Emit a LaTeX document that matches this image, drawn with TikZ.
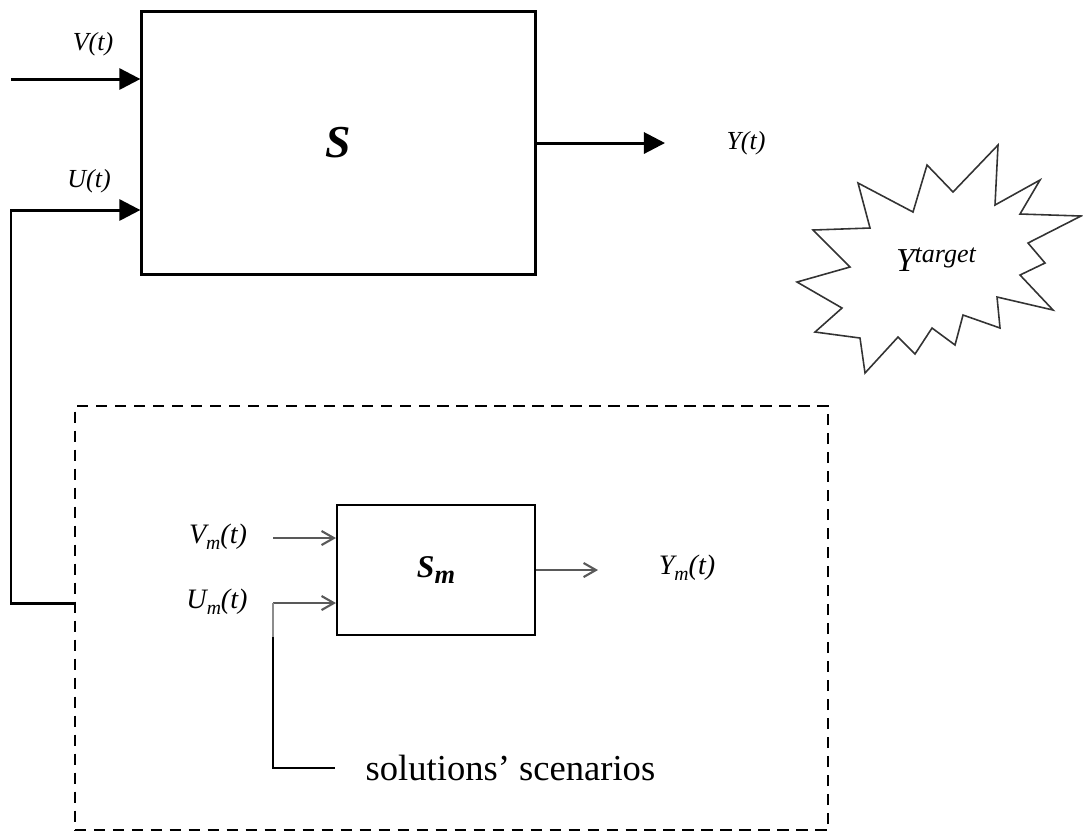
\documentclass[tikz,border=0pt]{standalone}
\usepackage{fontspec}
\setmainfont{Liberation Serif}
\usetikzlibrary{positioning, arrows.meta}
\newcommand{\msub}[2][5.6]{\raisebox{-1.6pt}{\fontsize{#1}{6}\selectfont #2}}

\begin{document}
\begin{tikzpicture}[x=0.01cm, y=-0.01cm,
    > = {Triangle[length=6pt, width=6pt]},
    sig/.style={line width=0.85pt, ->},
    msig/.style={draw=black!65, line width=0.6pt, -{Straight Barb[length=3.5pt, width=4pt]}},
    lbl/.style={font=\fontsize{7.4}{9}\selectfont\itshape, inner sep=0pt},
    mlbl/.style={font=\fontsize{8}{9}\selectfont\itshape, inner sep=0pt}
]
    \useasboundingbox (0,0) rectangle (1083,832);

    \node [draw, line width=0.85pt,
        minimum width=3.93cm,
        minimum height=2.62cm,
        font=\fontsize{13}{14}\selectfont\bfseries\itshape
    ] (S) at (338.5,143) {S};

    \node [draw, dashed, line width=0.7pt,
        dash pattern=on 3.2pt off 2.2pt,
        minimum width=7.53cm,
        minimum height=4.24cm
    ] (model) at (451.5,618) {};

    \node [draw, line width=0.55pt,
        minimum width=1.98cm,
        minimum height=1.30cm,
        font=\fontsize{9}{10}\selectfont\bfseries\itshape
    ] (Sm) at (436,570) {S\msub[7.5]{m}};

    % legendas
    \node [lbl] (V) at (93,44) {V(t)};
    \node [lbl] (U) at (89,181) {U(t)};
    \node [lbl] (Y) at (746,143) {Y(t)};
    \node [mlbl] (Vm) at (218,537) {V\msub{m}(t)};
    \node [mlbl] (Um) at (217,602) {U\msub{m}(t)};
    \node [mlbl] (Ym) at (687,568) {Y\msub{m}(t)};
    \node [font=\fontsize{10.4}{12}\selectfont, anchor=west, inner sep=0pt]
        (scen) at (365,768) {solutions’ scenarios};

    % target
    \draw [black!80, line width=0.45pt]
        (998,145) -- (995,205) -- (1040,180) -- (1020,214) -- (1081,216)
        -- (1028,243) -- (1045,263) -- (1020,275) -- (1053,310) -- (997,297)
        -- (1000,328) -- (963,315) -- (955,345) -- (932,328) -- (915,354)
        -- (898,337) -- (865,373) -- (860,338) -- (815,332) -- (842,308)
        -- (797,282) -- (850,267) -- (813,230) -- (870,228) -- (858,183)
        -- (913,212) -- (927,165) -- (953,192) -- cycle;
    \node [inner sep=0pt, font=\itshape] (target) at (936,260)
        {{\fontsize{9.5}{10}\selectfont Y}\raisebox{2.5pt}{\fontsize{7.4}{8}\selectfont target}};

    \coordinate (vin) at (11,79);
    \coordinate (ubot) at (11,603);
    \coordinate (utop) at (11,210);
    \coordinate (yout) at (665,143);
    \coordinate (vmin) at (273,538);
    \coordinate (umin) at (273,603);
    \coordinate (ymout) at (598,571);
    \coordinate (sbreak) at (273,637);
    \coordinate (scorner) at (273,768);

    % arrows
    \draw [sig] (vin) -- (vin -| S.west);
    \draw [sig] (ubot -| model.west) -- (ubot) -- (utop) -- (utop -| S.west);
    \draw [sig] (S.east) -- (yout);
    \draw [msig] (vmin) -- (vmin -| Sm.west);
    \draw [msig] (umin) -- (umin -| Sm.west);
    \draw [msig] (Sm.east) -- (Sm.east -| ymout);
    \draw [black!45, line width=0.35pt] (umin) -- (sbreak);
    \draw [line width=0.5pt] (sbreak) -- (scorner) -- ([xshift=-0.3cm]scen.west);
\end{tikzpicture}
\end{document}
